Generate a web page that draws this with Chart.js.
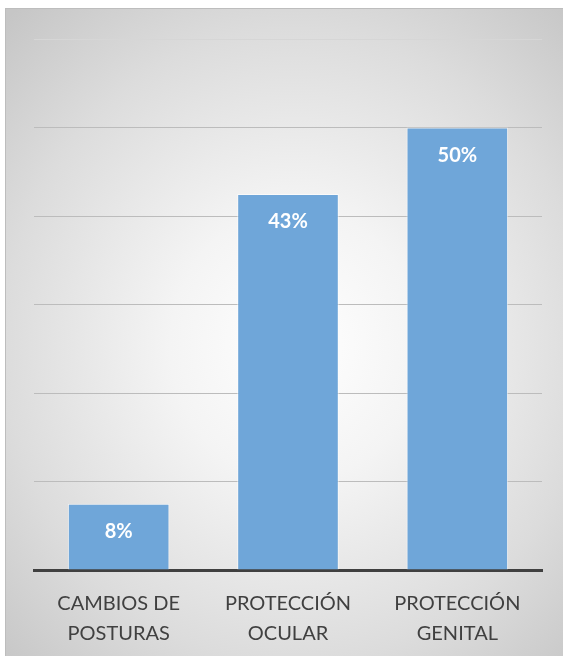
<!DOCTYPE html>
<html lang="es">
<head>
  <meta charset="UTF-8" />
  <title>Protección</title>
  <script src="https://cdn.jsdelivr.net/npm/chart.js"></script>
  <style>
    html, body {
      margin: 0;
      padding: 0;
      background: #ffffff;
    }
    .frame {
      position: absolute;
      left: 5px;
      top: 8px;
      width: 557px;
      height: 647px;
      border-top: 1px solid #bdbdbd;
      border-left: 1px solid #bdbdbd;
      background: radial-gradient(ellipse 75% 70% at 52% 52%, #ffffff 0%, #f4f4f4 30%, #dcdcdc 70%, #c6c6c6 100%);
    }
    canvas {
      display: block;
    }
  </style>
</head>
<body>
  <div class="frame">
    <canvas id="chart" width="557" height="647"></canvas>
  </div>

  <script>
    const categories = [['CAMBIOS DE', 'POSTURAS'], ['PROTECCIÓN', 'OCULAR'], ['PROTECCIÓN', 'GENITAL']];
    const values = [7.5, 42.5, 50];
    const valueLabels = ['8%', '43%', '50%'];

    // etiquetas blancas dentro de cada barra
    const barLabels = {
      id: 'barLabels',
      afterDatasetsDraw(chart) {
        const ctx = chart.ctx;
        const meta = chart.getDatasetMeta(0);
        ctx.save();
        ctx.fillStyle = '#ffffff';
        ctx.font = 'bold 20px Lato, sans-serif';
        ctx.textAlign = 'center';
        ctx.textBaseline = 'middle';
        meta.data.forEach((bar, i) => {
          ctx.fillText(valueLabels[i], bar.x, bar.y + 28);
        });
        ctx.restore();
      }
    };

    new Chart(document.getElementById('chart'), {
      type: 'bar',
      data: {
        labels: categories,
        datasets: [{
          data: values,
          backgroundColor: '#6fa6d9',
          borderColor: 'rgba(255,255,255,0.6)',
          borderWidth: 1,
          categoryPercentage: 1,
          barPercentage: 0.6
        }]
      },
      options: {
        responsive: false,
        animation: false,
        layout: { padding: { left: 28, right: 21, top: 30, bottom: 0 } },
        plugins: {
          legend: { display: false },
          tooltip: { enabled: false }
        },
        scales: {
          x: {
            grid: { display: false },
            border: { color: '#404040', width: 3 },
            ticks: {
              color: '#404040',
              font: { family: 'Lato, sans-serif', size: 20, lineHeight: 1.5 },
              maxRotation: 0,
              padding: 11
            },
            afterFit(scale) { scale.height = 86; }
          },
          y: {
            min: 0,
            max: 60,
            ticks: { display: false, stepSize: 10 },
            border: { display: false },
            grid: {
              color: ctx => ctx.tick && ctx.tick.value === 60 ? '#d6d6d6' : '#bcbcbc',
              drawTicks: false
            }
          }
        }
      },
      plugins: [barLabels]
    });
  </script>
</body>
</html>
